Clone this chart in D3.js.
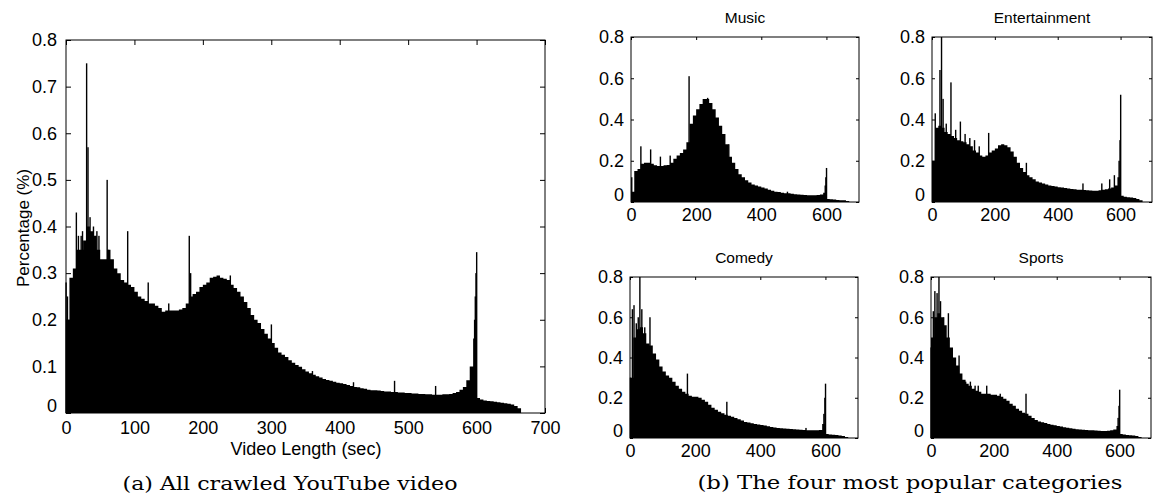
<!DOCTYPE html>
<html><head><meta charset="utf-8">
<script src="https://cdn.jsdelivr.net/npm/d3@7"></script>
<style>
html,body{margin:0;padding:0;background:#fff;}
svg{display:block;}
.tick text{font-family:"Liberation Sans",Arial,Helvetica,sans-serif;fill:#000;}
</style></head>
<body>
<svg id="c" width="1153" height="500"></svg>
<script>
// ---------- DATA ----------
// All crawled videos: 5-second bins starting at 0 s
const allBinStarts = d3.range(0, 665, 5);
const allValues = [
0.20,0.29,0.31,0.35,0.35,0.37,0.40,0.39,0.38,0.35,
0.33,0.33,0.35,0.33,0.31,0.30,0.285,0.28,0.275,0.27,
0.26,0.25,0.245,0.24,0.235,0.235,0.23,0.225,0.217,0.22,
0.22,0.22,0.22,0.222,0.225,0.235,0.25,0.255,0.26,0.27,
0.275,0.28,0.29,0.292,0.295,0.29,0.288,0.285,0.275,0.268,
0.26,0.25,0.238,0.225,0.21,0.20,0.193,0.18,0.17,0.16,
0.15,0.14,0.13,0.125,0.12,0.113,0.108,0.103,0.099,0.094,
0.089,0.085,0.082,0.079,0.076,0.073,0.071,0.069,0.067,0.065,
0.064,0.062,0.060,0.058,0.056,0.055,0.053,0.052,0.050,0.049,
0.049,0.048,0.047,0.046,0.046,0.045,0.045,0.044,0.044,0.043,
0.043,0.042,0.042,0.041,0.041,0.040,0.040,0.039,0.039,0.039,
0.040,0.040,0.041,0.043,0.045,0.050,0.056,0.070,0.100,0.160,
0.032,0.029,0.027,0.026,0.025,0.024,0.023,0.022,0.021,0.020,
0.018,0.015,0.010];
const allSpikes = [[0,0.28],[2,0.25],[15,0.43],[18,0.38],[22,0.38],[24,0.39],[30,0.75],[32,0.57],[35,0.42],
[40,0.40],[45,0.39],[48,0.38],[60,0.50],[62,0.35],[90,0.39],[120,0.28],[150,0.235],[180,0.38],
[182,0.30],[240,0.295],[300,0.19],[360,0.09],[420,0.066],[480,0.069],[540,0.058],[597,0.20],
[598,0.25],[599,0.30],[600,0.345]];

// Four categories: 10-second bins starting at 0 s
const catBinStarts = d3.range(0, 670, 10);
const musicValues = [
0.05,0.15,0.16,0.185,0.19,0.19,0.185,0.178,0.175,0.175,
0.178,0.18,0.19,0.21,0.225,0.237,0.255,0.29,0.38,0.42,
0.45,0.475,0.50,0.50,0.48,0.45,0.41,0.37,0.33,0.28,
0.22,0.19,0.16,0.135,0.12,0.105,0.095,0.085,0.08,0.075,
0.07,0.065,0.06,0.055,0.05,0.048,0.045,0.043,0.042,0.04,
0.038,0.036,0.035,0.034,0.033,0.033,0.033,0.034,0.036,0.045,
0.015,0.013,0.012,0.010,0.009,0.008,0.005];
const musicSpikes = [[2,0.12],[30,0.27],[60,0.255],[90,0.22],[120,0.225],[178,0.61],[235,0.505],
[300,0.28],[480,0.05],[596,0.08],[598,0.12],[600,0.165]];

const entValues = [
0.20,0.36,0.37,0.36,0.34,0.33,0.32,0.31,0.30,0.295,
0.29,0.28,0.27,0.25,0.24,0.225,0.22,0.225,0.24,0.25,
0.26,0.275,0.28,0.275,0.265,0.245,0.22,0.19,0.165,0.145,
0.13,0.12,0.11,0.10,0.095,0.09,0.085,0.08,0.077,0.075,
0.072,0.07,0.068,0.065,0.063,0.062,0.06,0.06,0.058,0.057,
0.056,0.055,0.055,0.057,0.06,0.062,0.065,0.07,0.08,0.12,
0.03,0.025,0.023,0.022,0.02,0.015,0.008];
const entSpikes = [[3,0.15],[10,0.43],[25,0.64],[30,0.80],[35,0.50],[45,0.38],[60,0.58],[75,0.35],
[90,0.39],[105,0.33],[120,0.31],[135,0.30],[150,0.27],[180,0.335],[300,0.19],[480,0.09],[540,0.09],
[565,0.11],[580,0.13],[595,0.20],[598,0.30],[600,0.52]];

const comedyValues = [
0.30,0.50,0.54,0.55,0.52,0.47,0.46,0.42,0.39,0.355,
0.33,0.31,0.30,0.28,0.26,0.245,0.23,0.22,0.21,0.205,
0.205,0.20,0.19,0.18,0.165,0.15,0.14,0.13,0.123,0.115,
0.11,0.105,0.10,0.093,0.087,0.08,0.077,0.073,0.07,0.067,
0.065,0.062,0.058,0.055,0.052,0.05,0.048,0.047,0.046,0.045,
0.044,0.042,0.041,0.04,0.039,0.038,0.038,0.039,0.04,0.07,
0.02,0.018,0.016,0.015,0.013,0.01,0.005];
const comedySpikes = [[1,0.30],[7,0.64],[12,0.66],[19,0.57],[25,0.60],[30,0.80],[36,0.64],[45,0.55],
[61,0.60],[176,0.32],[297,0.18],[540,0.05],[595,0.12],[598,0.20],[600,0.27]];

const sportsValues = [
0.50,0.60,0.62,0.60,0.56,0.50,0.45,0.40,0.36,0.32,
0.29,0.27,0.26,0.245,0.235,0.23,0.22,0.22,0.22,0.215,
0.215,0.21,0.205,0.195,0.185,0.17,0.16,0.145,0.135,0.125,
0.12,0.11,0.10,0.09,0.082,0.078,0.074,0.07,0.066,0.063,
0.06,0.057,0.054,0.051,0.048,0.046,0.044,0.042,0.041,0.04,
0.039,0.038,0.037,0.036,0.035,0.035,0.036,0.038,0.042,0.06,
0.02,0.017,0.015,0.014,0.012,0.01,0.005];
const sportsSpikes = [[0,0.45],[7,0.63],[12,0.73],[19,0.72],[25,0.80],[30,0.68],[40,0.60],[55,0.62],
[89,0.41],[110,0.28],[125,0.28],[140,0.26],[150,0.26],[177,0.26],[220,0.22],[302,0.22],[595,0.10],
[598,0.16],[600,0.24]];

const mainXTicks = [0,100,200,300,400,500,600,700];
const mainYTicks = [0,0.1,0.2,0.3,0.4,0.5,0.6,0.7,0.8];
const smallXTicks = [0,200,400,600];
const smallYTicks = [0,0.2,0.4,0.6,0.8];
const categoryNames = ["Music","Entertainment","Comedy","Sports"];

// ---------- DRAWING ----------
const svg = d3.select("#c");
const fmt = d => d === 0 ? "0" : d3.format(".1f")(d);
const sansFont = "Liberation Sans, Arial, Helvetica, sans-serif";
const serifFont = "'DejaVu Serif', 'Liberation Serif', serif";

function panel(opt){
  const {l,r,t,b,starts,values,binW,spikes,xTicks,yTicks,tick,fs,title} = opt;
  const x = d3.scaleLinear().domain([0,700]).range([l,r]);
  const y = d3.scaleLinear().domain([0,0.8]).range([b,t]);
  const g = svg.append("g");
  const pts = starts.map((s,i)=>[s,values[i]]);
  pts.push([starts[starts.length-1]+binW, 0]);
  const area = d3.area().x(d=>x(d[0])).y0(y(0)).y1(d=>y(d[1])).curve(d3.curveStepAfter);
  g.append("path").datum(pts).attr("d",area).attr("fill","#000");
  g.append("g").selectAll("rect").data(spikes).join("rect")
    .attr("x", d=>x(d[0])-0.6).attr("width", d=>Math.max(1.4, x(d[0]+1)-x(d[0])))
    .attr("y", d=>y(Math.min(0.8,d[1]))).attr("height", d=>y(0)-y(Math.min(0.8,d[1]))).attr("fill","#000");
  g.append("rect").attr("x",l).attr("y",t).attr("width",r-l).attr("height",b-t)
    .attr("fill","none").attr("stroke","#000").attr("stroke-width",1);
  g.append("g").attr("transform",`translate(0,${b})`)
    .call(d3.axisBottom(x).tickValues(xTicks).tickSizeInner(-tick).tickSizeOuter(0).tickPadding(tick+3).tickFormat(d3.format("d")));
  const ay = g.append("g").attr("transform",`translate(${l},0)`)
    .call(d3.axisLeft(y).tickValues(yTicks).tickSizeInner(-tick).tickSizeOuter(0).tickPadding(tick+4).tickFormat(fmt));
  g.append("g").attr("transform",`translate(0,${t})`)
    .call(d3.axisTop(x).tickValues(xTicks).tickSizeInner(-tick).tickSizeOuter(0).tickFormat(""));
  g.append("g").attr("transform",`translate(${r},0)`)
    .call(d3.axisRight(y).tickValues(yTicks).tickSizeInner(-tick).tickSizeOuter(0).tickFormat(""));
  g.selectAll(".domain").remove();
  g.selectAll(".tick line").attr("stroke","#000");
  g.selectAll(".tick text").attr("font-size",fs);
  ay.selectAll(".tick text").filter(d=>d===0).attr("dy","-0.1em");
  if(title){
    svg.append("text").attr("x",(l+r)/2).attr("y",t-14).attr("text-anchor","middle")
      .attr("font-family",sansFont).attr("font-size",15.5).text(title);
  }
  return {x,y};
}

panel({l:66,r:545,t:40,b:413,starts:allBinStarts,values:allValues,binW:5,spikes:allSpikes,
  xTicks:mainXTicks,yTicks:mainYTicks,tick:5,fs:18});
svg.append("text").attr("transform","translate(23,228) rotate(-90)").attr("text-anchor","middle")
  .attr("dy","0.35em").attr("font-family",sansFont).attr("font-size",17).text("Percentage (%)");
svg.append("text").attr("x",306).attr("y",455).attr("text-anchor","middle")
  .attr("font-family",sansFont).attr("font-size",18).text("Video Length (sec)");

const cats = [
  {l:631,r:859,t:37,b:202,values:musicValues,spikes:musicSpikes},
  {l:932,r:1152,t:37,b:202,values:entValues,spikes:entSpikes},
  {l:630,r:858,t:277,b:438,values:comedyValues,spikes:comedySpikes},
  {l:931,r:1151,t:277,b:438,values:sportsValues,spikes:sportsSpikes}
];
cats.forEach((c,i)=>panel(Object.assign({starts:catBinStarts,binW:10,xTicks:smallXTicks,yTicks:smallYTicks,
  tick:3,fs:18,title:categoryNames[i]},c)));

svg.append("text").attr("x",290).attr("y",490).attr("text-anchor","middle")
  .attr("font-family",serifFont).attr("font-size",19)
  .attr("textLength",335).attr("lengthAdjust","spacingAndGlyphs").text("(a) All crawled YouTube video");
svg.append("text").attr("x",910).attr("y",489).attr("text-anchor","middle")
  .attr("font-family",serifFont).attr("font-size",19)
  .attr("textLength",425).attr("lengthAdjust","spacingAndGlyphs").text("(b) The four most popular categories");
</script>
</body></html>
